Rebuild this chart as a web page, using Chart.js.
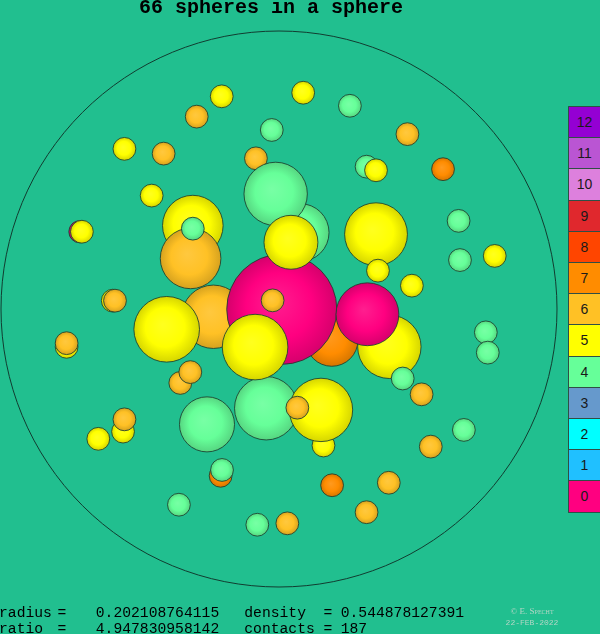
<!DOCTYPE html>
<html>
<head>
<meta charset="utf-8">
<title>66 spheres in a sphere</title>
<script src="https://cdn.jsdelivr.net/npm/chart.js"></script>
<style>
  html, body { margin: 0; padding: 0; background: #21bf8f; overflow: hidden; }
  #wrap { position: relative; width: 600px; height: 634px; }
  #c { position: absolute; left: 0; top: 0; }
  .txt { position: absolute; font-family: "Liberation Mono", "DejaVu Sans Mono", monospace; color: #000; white-space: pre; line-height: 1; }
  #title { left: 139px; top: -2px; font-size: 20px; font-weight: bold; }
  .row { font-size: 14.7px; }
  .cell { position: absolute; left: 568px; width: 34px; box-sizing: border-box; border: 1px solid #2f4f45;
          font-family: "Liberation Sans", "DejaVu Sans", sans-serif; font-size: 14px; color: #1a1a1a;
          display: flex; align-items: center; justify-content: center; padding-right: 1px; }
  .sig { position: absolute; left: 482px; width: 100px; text-align: center; color: #b4d6c6; line-height: 1; white-space: pre; }
</style>
</head>
<body>
<div id="wrap">
  <canvas id="c" width="600" height="634"></canvas>
  <div id="title" class="txt">66 spheres in a sphere</div>
  <div class="txt row" style="left:-1px;top:606.3px">radius</div>
  <div class="txt row" style="left:57.5px;top:606.3px">=</div>
  <div class="txt row" style="left:95.8px;top:606.3px">0.202108764115</div>
  <div class="txt row" style="left:244.3px;top:606.3px">density</div>
  <div class="txt row" style="left:323.5px;top:606.3px">=</div>
  <div class="txt row" style="left:340.7px;top:606.3px">0.544878127391</div>
  <div class="txt row" style="left:-1px;top:622.3px">ratio</div>
  <div class="txt row" style="left:57.5px;top:622.3px">=</div>
  <div class="txt row" style="left:95.8px;top:622.3px">4.947830958142</div>
  <div class="txt row" style="left:244.3px;top:622.3px">contacts</div>
  <div class="txt row" style="left:323.5px;top:622.3px">=</div>
  <div class="txt row" style="left:340.7px;top:622.3px">187</div>
  <div class="sig" style="top:607px;font-family:'Liberation Serif',serif;font-size:9px;font-variant:small-caps">© E. Specht</div>
  <div class="sig" style="top:619px;font-family:'Liberation Mono',monospace;font-size:8px">22-FEB-2022</div>
  <div id="bar"></div>
</div>
<script>
// colour of each contact count 0..12
var groupColors = ['#ff0080', '#20c0ff', '#00ffff', '#6699cc', '#66ff99', '#ffff00', '#ffc125',
                   '#ff8c00', '#ff4500', '#e0282d', '#dd80dd', '#ba55d3', '#9400d3'];
var barLabels = ['12', '11', '10', '9', '8', '7', '6', '5', '4', '3', '2', '1', '0'];

// projected spheres, container radius = 1, listed back to front
var xs = [-0.716, -0.709, -0.598, -0.590, -0.764, -0.764, -0.561, -0.556, -0.650, -0.210,
          -0.205, -0.360, -0.078, 0.030, 0.315, 0.191, 0.395, 0.546, 0.665, 0.513,
          0.744, 0.751, 0.478, 0.776, 0.651, 0.646, 0.590, 0.462, 0.255, 0.087,
          -0.206, -0.296, -0.026, -0.556, -0.415, -0.083, -0.458, 0.315, 0.349, -0.355,
          -0.319, 0.160,
          -0.310, -0.318, -0.310, -0.259, -0.046, 0.151, 0.066, -0.236, -0.404, 0.190,
          0.076, -0.012, 0.010, 0.043, -0.023, -0.086, 0.397, 0.318, 0.445, 0.349, 0.356];
var ys = [0.278, 0.278, 0.030, 0.030, -0.136, -0.123, -0.441, -0.397, -0.467, -0.600,
          -0.579, -0.704, -0.776, -0.771, -0.731, -0.634, -0.625, -0.495, -0.435, -0.307,
          -0.084, -0.157, 0.084, 0.191, 0.176, 0.317, 0.503, 0.629, 0.731, 0.778,
          0.765, 0.692, 0.644, 0.576, 0.559, 0.542, 0.408, 0.512, 0.499, -0.266,
          -0.227, -0.491,
          0.300, 0.182, 0.289, -0.415, -0.357, -0.363, -0.355, -0.028, -0.073, -0.112,
          0.275, 0.414, -0.001, 0.240, 0.031, -0.137, -0.136, -0.019, -0.250, 0.269, 0.138];
var sizes = [0.040, 0.041, 0.041, 0.041, 0.041, 0.041, 0.041, 0.041, 0.041, 0.041,
             0.041, 0.041, 0.041, 0.041, 0.041, 0.041, 0.041, 0.041, 0.041, 0.041,
             0.041, 0.041, 0.041, 0.041, 0.041, 0.041, 0.041, 0.041, 0.041, 0.041,
             0.041, 0.041, 0.041, 0.041, 0.041, 0.041, 0.041, 0.041, 0.041, 0.041,
             0.041, 0.041,
             0.109, 0.109, 0.041, 0.099, 0.114, 0.114, 0.041, 0.114, 0.118, 0.094,
             0.104, 0.114, 0.198, 0.097, 0.041, 0.118, 0.114, 0.113, 0.041, 0.113, 0.041];
var contacts = [0, 5, 5, 6, 5, 6, 5, 6, 5, 7,
                4, 4, 4, 6, 6, 7, 6, 6, 4, 6,
                4, 4, 5, 5, 4, 4, 7, 6, 4, 5,
                5, 6, 4, 5, 6, 6, 5, 4, 5, 6,
                6, 5,
                5, 6, 4, 4, 4, 5, 6, 6, 5, 7,
                4, 4, 0, 5, 6, 5, 5, 0, 4, 5, 5];

// pixels per data unit, 0 until the scales are laid out
function unitPx(chart) {
    var s = chart.scales && chart.scales.x;
    if (!s) return 0;
    var u = Math.abs(s.getPixelForValue(1) - s.getPixelForValue(0));
    return isFinite(u) ? u : 0;
}

function mix(hex, f, toWhite) {
    var n = parseInt(hex.slice(1), 16);
    var c = [(n >> 16) & 255, (n >> 8) & 255, n & 255].map(function (v) {
        return Math.round(toWhite ? v + (255 - v) * f : v * f);
    });
    return 'rgb(' + c.join(',') + ')';
}

// shaded sphere look
function shade(ctx) {
    var p = ctx.raw;
    if (!p || p.c === undefined) return '#000';
    var chart = ctx.chart;
    var base = groupColors[p.c];
    var r = p.size * unitPx(chart);
    if (!(r > 0)) return base;
    var x = chart.scales.x.getPixelForValue(p.x);
    var y = chart.scales.y.getPixelForValue(p.y);
    if (!isFinite(x) || !isFinite(y)) return base;
    var g = chart.ctx.createRadialGradient(x - r * 0.12, y - r * 0.15, 0, x, y, r);
    g.addColorStop(0, mix(base, 0.12, true));
    g.addColorStop(0.6, base);
    g.addColorStop(1, mix(base, 0.84, false));
    return g;
}

var points = xs.map(function (x, i) {
    return { x: x, y: ys[i], size: sizes[i], c: contacts[i], r: 1 };
});

// colour bar
var bar = document.getElementById('bar');
barLabels.forEach(function (lab, i) {
    var d = document.createElement('div');
    d.className = 'cell';
    d.style.top = (106 + i * 31.2) + 'px';
    d.style.height = '32.2px';
    d.style.background = groupColors[+lab];
    d.textContent = lab;
    bar.appendChild(d);
});

var chart = new Chart(document.getElementById('c'), {
    type: 'bubble',
    data: {
        datasets: [{
            data: points,
            clip: false,
            backgroundColor: shade,
            borderColor: 'rgba(28,62,46,0.85)',
            borderWidth: 1
        }, {
            data: [{ x: 0, y: 0, size: 1, r: 1 }],
            clip: false,
            backgroundColor: 'rgba(0,0,0,0)',
            borderColor: '#123c30',
            borderWidth: 1
        }]
    },
    options: {
        responsive: false,
        animation: false,
        events: [],
        layout: { autoPadding: false, padding: { left: 1, right: 43, top: 31, bottom: 47 } },
        scales: {
            x: { type: 'linear', min: -1, max: 1, display: false },
            y: { type: 'linear', min: -1, max: 1, display: false }
        },
        plugins: { legend: { display: false }, tooltip: { enabled: false } }
    }
});

// bubble radii are in pixels: convert the data sizes with the x scale
var u = unitPx(chart);
chart.data.datasets.forEach(function (ds) {
    ds.data.forEach(function (p) { p.r = p.size * u; });
});
chart.update();
</script>
</body>
</html>
